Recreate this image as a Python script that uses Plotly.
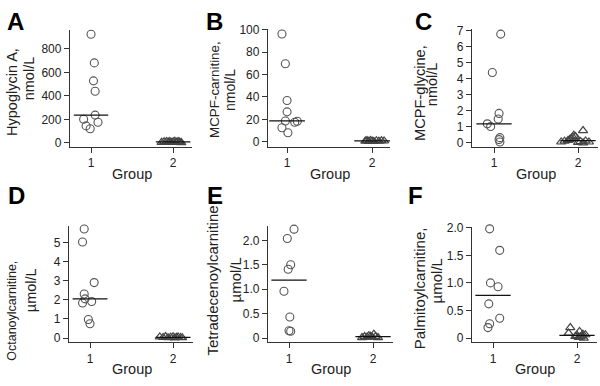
import numpy as np
import plotly.graph_objects as go

W, H = 600, 386

# ---------------- data ----------------
# Panel A  Hypoglycin A, nmol/L
a_g1 = [925, 681, 528, 439, 236, 200, 175, 144, 119]
a_g1_jit = [0.0, 0.04, 0.03, 0.05, 0.05, -0.09, 0.085, -0.06, -0.01]
a_g2 = [4, 9, 12, 6, 10, 3, 8, 14, 5, 11, 7, 2]
a_g2_jit = [-0.14, -0.11, -0.08, -0.06, -0.04, -0.02, 0.0, 0.02, 0.04, 0.06, 0.08, 0.10]

# Panel B  MCPF-carnitine, nmol/L
b_g1 = [96.2, 69.6, 36.8, 26.7, 18.6, 17.4, 18.3, 12.5, 8.1]
b_g1_jit = [-0.06, -0.02, 0.0, 0.0, -0.02, 0.09, 0.12, -0.06, 0.01]
b_g2 = [0.6, 1.1, 0.4, 1.2, 0.8, 0.3, 0.9, 0.5, 1.0, 0.7]
b_g2_jit = [-0.08, -0.06, -0.04, -0.02, 0.0, 0.02, 0.05, 0.08, 0.11, 0.14]

# Panel C  MCPF-glycine, nmol/L
c_g1 = [6.77, 4.38, 1.83, 1.48, 1.18, 1.01, 0.32, 0.2, 0.05]
c_g1_jit = [0.08, -0.02, 0.06, 0.05, -0.08, -0.04, 0.07, 0.06, 0.07]
c_g2 = [0.05, 0.1, 0.15, 0.2, 0.28, 0.35, 0.47, 0.4, 0.76, 0.02, 0.08, 0.0, 0.12, 0.05]
c_g2_jit = [-0.2, -0.16, -0.12, -0.1, -0.08, -0.06, -0.05, -0.03, 0.06, 0.0, 0.03, 0.06, 0.09, 0.13]

# Panel D  Octanoylcarnitine, umol/L
d_g1 = [5.70, 5.02, 2.90, 2.30, 2.05, 1.91, 1.83, 0.97, 0.75]
d_g1_jit = [-0.07, -0.09, 0.05, -0.07, -0.06, 0.02, -0.09, -0.02, 0.0]
d_g2 = [0.06, 0.03, 0.08, 0.02, 0.05, 0.07, 0.01, 0.04, 0.06, 0.03, 0.02]
d_g2_jit = [-0.16, -0.12, -0.09, -0.06, -0.03, 0.0, 0.02, 0.04, 0.06, 0.09, 0.11]

# Panel E  Tetradecenoylcarnitine, umol/L
e_g1 = [2.23, 2.04, 1.50, 1.41, 0.96, 0.43, 0.15, 0.14]
e_g1_jit = [0.06, -0.02, 0.02, -0.01, -0.06, 0.01, 0.0, 0.02]
e_g2 = [0.01, 0.03, 0.02, 0.05, 0.04, 0.02, 0.08, 0.03, 0.01]
e_g2_jit = [-0.13, -0.1, -0.07, -0.05, -0.03, -0.01, 0.01, 0.03, 0.06]

# Panel F  Palmitoylcarnitine, umol/L
f_g1 = [1.98, 1.59, 1.00, 0.93, 0.62, 0.36, 0.26, 0.19]
f_g1_jit = [-0.04, 0.08, -0.03, 0.06, -0.05, 0.08, -0.04, -0.06]
f_g2 = [0.19, 0.09, 0.12, 0.07, 0.03, 0.05, 0.01, 0.02, 0.04, 0.0, 0.06]
f_g2_jit = [-0.08, -0.1, 0.03, 0.07, -0.02, 0.0, 0.02, 0.04, 0.06, 0.08, 0.1]

group_ticks = [1, 2]
group_labels = ["1", "2"]

panels = [
    dict(letter="A", g1=a_g1, j1=a_g1_jit, g2=a_g2, j2=a_g2_jit,
         ylab=["Hypoglycin A,", "nmol/L"],
         yt=[0, 200, 400, 600, 800], ytt=["0", "200", "400", "600", "800"]),
    dict(letter="B", g1=b_g1, j1=b_g1_jit, g2=b_g2, j2=b_g2_jit,
         ylab=["MCPF-carnitine,", "nmol/L"],
         yt=[0, 20, 40, 60, 80, 100], ytt=["0", "20", "40", "60", "80", "100"]),
    dict(letter="C", g1=c_g1, j1=c_g1_jit, g2=c_g2, j2=c_g2_jit,
         ylab=["MCPF-glycine,", "nmol/L"],
         yt=[0, 1, 2, 3, 4, 5, 6, 7], ytt=["0", "1", "2", "3", "4", "5", "6", "7"]),
    dict(letter="D", g1=d_g1, j1=d_g1_jit, g2=d_g2, j2=d_g2_jit,
         ylab=["Octanoylcarnitine,", "µmol/L"],
         yt=[0, 1, 2, 3, 4, 5], ytt=["0", "1", "2", "3", "4", "5"]),
    dict(letter="E", g1=e_g1, j1=e_g1_jit, g2=e_g2, j2=e_g2_jit,
         ylab=["Tetradecenoylcarnitine,", "µmol/L"],
         yt=[0, 0.5, 1.0, 1.5, 2.0], ytt=["0", "0.5", "1.0", "1.5", "2.0"]),
    dict(letter="F", g1=f_g1, j1=f_g1_jit, g2=f_g2, j2=f_g2_jit,
         ylab=["Palmitoylcarnitine,", "µmol/L"],
         yt=[0, 0.5, 1.0, 1.5, 2.0], ytt=["0", "0.5", "1.0", "1.5", "2.0"]),
]

# ---------------- layout geometry (pixels) ----------------
geo = [
    dict(xd=(70, 192), yd=(25, 144), xr=(0.744, 2.23), yr=(-33, 958),
         let=(15, 16), l1=(12, 88), l2=(29, 74), fs=(14.5, 14.5), gy=172),
    dict(xd=(268, 390), yd=(24, 144), xr=(0.776, 2.21), yr=(-4.36, 100.3),
         let=(214, 16), l1=(215, 86), l2=(230, 86), fs=(13.4, 14.0), gy=172),
    dict(xd=(472, 598), yd=(24, 144), xr=(0.738, 2.238), yr=(-0.24, 7.06),
         let=(423, 16), l1=(420, 89), l2=(432, 80), fs=(14.6, 14.5), gy=172),
    dict(xd=(69, 193), yd=(225, 344), xr=(0.747, 2.24), yr=(-0.204, 5.87),
         let=(16, 194), l1=(12, 312), l2=(31, 291), fs=(12.5, 14.5), gy=372),
    dict(xd=(268, 393), yd=(225, 344), xr=(0.75, 2.238), yr=(-0.08, 2.3),
         let=(215, 194), l1=(212, 279), l2=(235, 281), fs=(15.0, 15.0), gy=372),
    dict(xd=(472, 597), yd=(226, 344), xr=(0.75, 2.238), yr=(-0.071, 2.018),
         let=(415, 194), l1=(419, 289), l2=(436, 282), fs=(15.0, 15.0), gy=372),
]

FONT = "Liberation Sans, Arial, sans-serif"
TXT = "#222222"
LINE = "#333333"
MK = "#555555"

fig = go.Figure()
annotations = []
layout_axes = {}

for i, (p, g) in enumerate(zip(panels, geo), start=1):
    xa = "x" if i == 1 else f"x{i}"
    ya = "y" if i == 1 else f"y{i}"
    xkey = "xaxis" if i == 1 else f"xaxis{i}"
    ykey = "yaxis" if i == 1 else f"yaxis{i}"

    fig.add_trace(go.Scatter(
        x=[1 + j for j in p["j1"]], y=p["g1"], mode="markers", cliponaxis=False,
        marker=dict(symbol="circle-open", size=8, color=MK, line=dict(width=1.1, color=MK)),
        xaxis=xa, yaxis=ya, showlegend=False, hoverinfo="skip"))
    fig.add_trace(go.Scatter(
        x=[2 + j for j in p["j2"]], y=p["g2"], mode="markers", cliponaxis=False,
        marker=dict(symbol="triangle-up-open", size=8, color="#444444",
                    line=dict(width=1.2, color="#444444")),
        xaxis=xa, yaxis=ya, showlegend=False, hoverinfo="skip"))
    m1 = float(np.median(p["g1"]))
    m2 = float(np.median(p["g2"]))
    hw = 0.21
    fig.add_trace(go.Scatter(
        x=[1 - hw, 1 + hw, None, 2 - hw, 2 + hw], y=[m1, m1, None, m2, m2],
        mode="lines", line=dict(color="#111111", width=1.2), cliponaxis=False,
        xaxis=xa, yaxis=ya, showlegend=False, hoverinfo="skip"))

    layout_axes[xkey] = dict(
        domain=[g["xd"][0] / W, g["xd"][1] / W], range=list(g["xr"]),
        anchor=ya, showline=True, linecolor=LINE, linewidth=1.3,
        ticks="outside", ticklen=5, tickwidth=1.2, tickcolor=LINE,
        tickvals=group_ticks, ticktext=group_labels,
        tickfont=dict(family=FONT, size=12, color=TXT),
        showgrid=False, zeroline=False, fixedrange=True)
    layout_axes[ykey] = dict(
        domain=[1 - g["yd"][1] / H, 1 - g["yd"][0] / H], range=list(g["yr"]),
        anchor=xa, showline=True, linecolor=LINE, linewidth=1.3,
        ticks="outside", ticklen=5, tickwidth=1.2, tickcolor=LINE,
        tickvals=p["yt"], ticktext=p["ytt"],
        tickfont=dict(family=FONT, size=12, color=TXT),
        showgrid=False, zeroline=False, fixedrange=True)

    annotations.append(dict(
        text=f"<b>{p['letter']}</b>", x=g["let"][0] / W, y=1 - g["let"][1] / H,
        xref="paper", yref="paper", xanchor="center", yanchor="middle",
        showarrow=False, font=dict(family=FONT, size=24, color="#000000")))
    for line_txt, pos, fs in zip(p["ylab"], (g["l1"], g["l2"]), g["fs"]):
        annotations.append(dict(
            text=line_txt, x=pos[0] / W, y=1 - pos[1] / H,
            xref="paper", yref="paper", xanchor="center", yanchor="middle",
            textangle=-90, showarrow=False,
            font=dict(family=FONT, size=fs, color=TXT)))
    annotations.append(dict(
        text="Group", x=1.5, y=1 - g["gy"] / H, xref=xa, yref="paper",
        xanchor="center", yanchor="middle", showarrow=False,
        font=dict(family=FONT, size=14.5, color=TXT)))

fig.update_layout(
    width=W, height=H, margin=dict(l=0, r=0, t=0, b=0),
    paper_bgcolor="white", plot_bgcolor="white",
    annotations=annotations, **layout_axes)

fig.write_html("out.html", config={"displayModeBar": False},
               post_script="document.body.style.margin='0';document.body.style.padding='0';")
